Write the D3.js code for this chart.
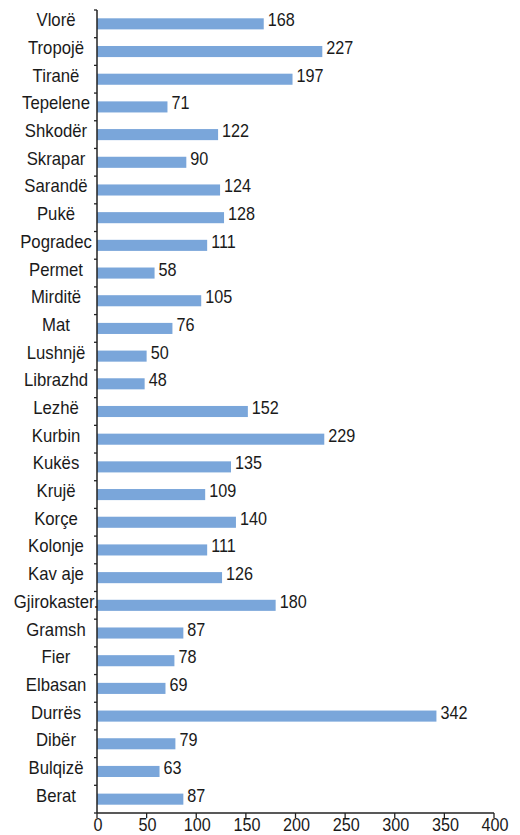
<!DOCTYPE html>
<html>
<head>
<meta charset="utf-8">
<script src="https://cdn.jsdelivr.net/npm/d3@7"></script>
<style>
  body { margin: 0; background: #fff; }
  text { font-family: "Liberation Sans", Arial, sans-serif; fill: #1a1a1a; }
</style>
</head>
<body>
<div id="chart"></div>
<script>
// districts, top to bottom as in the chart
let districts = ["Vlorë", "Tropojë", "Tiranë", "Tepelene", "Shkodër", "Skrapar", "Sarandë",
  "Pukë", "Pogradec", "Permet", "Mirditë", "Mat", "Lushnjë", "Librazhd", "Lezhë", "Kurbin",
  "Kukës", "Krujë", "Korçe", "Kolonje", "Kav aje", "Gjirokaster.", "Gramsh", "Fier",
  "Elbasan", "Durrës", "Dibër", "Bulqizë", "Berat"]
let counts = [168, 227, 197, 71, 122, 90, 124, 128, 111, 58, 105, 76, 50, 48, 152, 229,
  135, 109, 140, 111, 126, 180, 87, 78, 69, 342, 79, 63, 87]
let xTicks = [0, 50, 100, 150, 200, 250, 300, 350, 400]

let data = districts.map((d, i) => ({name: d, count: counts[i]}))

let svg_width = 520
let svg_height = 835
let plotLeft = 97
let plotRight = 494
let plotTop = 10
let plotBottom = 813
let squeeze = "scale(0.9,1)"

let svg = d3.select("#chart")
  .append("svg")
  .attr("width", svg_width)
  .attr("height", svg_height)

let x = d3.scaleLinear()
  .domain([0, 400])
  .range([plotLeft, plotRight])

let y = d3.scaleBand()
  .domain(districts)
  .range([plotTop, plotBottom])
  .paddingInner(0.6)
  .paddingOuter(0.3)

// bars
svg.selectAll("rect.bar")
  .data(data, d => d.name)
  .enter()
  .append("rect")
  .attr("class", "bar")
  .attr("x", x(0))
  .attr("y", d => y(d.name))
  .attr("width", d => x(d.count) - x(0))
  .attr("height", y.bandwidth())
  .style("fill", "#7aa6da")

// value labels
svg.selectAll("text.val")
  .data(data, d => d.name)
  .enter()
  .append("text")
  .attr("class", "val")
  .attr("transform", d => `translate(${x(d.count) + 4},${y(d.name) + y.bandwidth() / 2 + 2.5}) ${squeeze}`)
  .style("font-size", "18px")
  .text(d => d.count)

// category labels, centred in the left margin
svg.selectAll("text.cat")
  .data(data, d => d.name)
  .enter()
  .append("text")
  .attr("class", "cat")
  .attr("text-anchor", "middle")
  .attr("transform", d => `translate(56,${y(d.name) + y.bandwidth() / 2 + 2.5}) scale(0.93,1)`)
  .style("font-size", "18px")
  .text(d => d.name)

// y axis line with ticks on the category boundaries
let step = y.step()
let bounds = districts.map(d => y(d) - step * 0.3).concat([plotBottom])
svg.append("line")
  .attr("x1", plotLeft).attr("x2", plotLeft)
  .attr("y1", plotTop).attr("y2", plotBottom)
  .style("stroke", "#222").style("stroke-width", 1.5)
svg.selectAll("line.ytick")
  .data(bounds)
  .enter()
  .append("line")
  .attr("class", "ytick")
  .attr("x1", plotLeft - 3).attr("x2", plotLeft)
  .attr("y1", d => d).attr("y2", d => d)
  .style("stroke", "#222").style("stroke-width", 1.3)

// x axis
svg.append("line")
  .attr("x1", plotLeft).attr("x2", plotRight)
  .attr("y1", plotBottom).attr("y2", plotBottom)
  .style("stroke", "#222").style("stroke-width", 1.5)
svg.selectAll("line.xtick")
  .data(xTicks)
  .enter()
  .append("line")
  .attr("class", "xtick")
  .attr("x1", d => x(d)).attr("x2", d => x(d))
  .attr("y1", plotBottom).attr("y2", plotBottom + 5)
  .style("stroke", "#222").style("stroke-width", 1.3)
svg.selectAll("text.xlab")
  .data(xTicks)
  .enter()
  .append("text")
  .attr("class", "xlab")
  .attr("text-anchor", "middle")
  .attr("transform", d => `translate(${x(d) + 1},${plotBottom + 18}) ${squeeze}`)
  .style("font-size", "18px")
  .text(d => d)
</script>
</body>
</html>
